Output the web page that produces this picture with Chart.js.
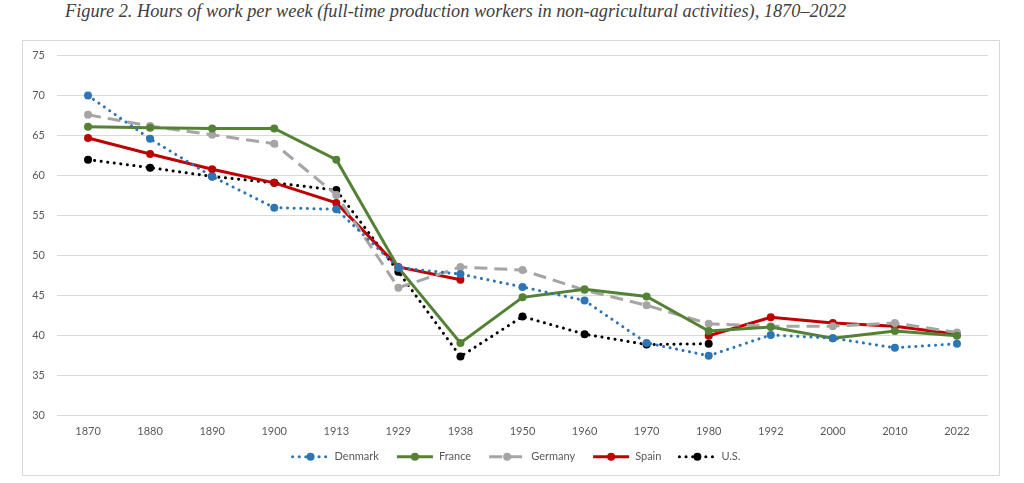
<!DOCTYPE html>
<html>
<head>
<meta charset="utf-8">
<script src="https://cdn.jsdelivr.net/npm/chart.js@4.4.1/dist/chart.umd.min.js"></script>
<style>
  body { margin: 0; background: #fff; width: 1024px; height: 483px; overflow: hidden; position: relative; }
  #title { position: absolute; left: 65px; top: 1px; font-family: "Liberation Serif", serif; font-style: italic; font-size: 18.3px; color: #404040; white-space: nowrap; }
  #box { position: absolute; left: 22px; top: 40px; width: 978px; height: 436px; box-sizing: border-box; border: 1px solid #d9d9d9; }
  #box canvas { display: block; position: relative; top: -4px; }
</style>
</head>
<body>
<div id="title">Figure 2. Hours of work per week (full-time production workers in non-agricultural activities), 1870–2022</div>
<div id="box"><canvas id="hoursChart" width="976" height="438"></canvas></div>
<script>
const years = ["1870", "1880", "1890", "1900", "1913", "1929", "1938", "1950", "1960", "1970", "1980", "1992", "2000", "2010", "2022"];
const denmark = [70, 64.6, 59.9, 56, 55.8, 48.5, 47.7, 46.1, 44.4, 39.1, 37.5, 40.1, 39.7, 38.5, 39.0];
const france = [66.1, 66, 65.9, 65.9, 62, 48.5, 39.1, 44.8, 45.8, 44.9, 40.6, 41.1, 39.7, 40.6, 40.0];
const germany = [67.6, 66.2, 65.1, 64, 57.6, 46, 48.6, 48.2, 45.7, 43.8, 41.5, 41.2, 41.2, 41.6, 40.4];
const spain = [64.7, 62.7, 60.8, 59.1, 56.6, 48.6, 47, null, null, null, 40.0, 42.3, 41.6, 41.2, 40.2];
const us = [62, 61, 59.9, 59.1, 58.2, 48, 37.4, 42.4, 40.2, 38.9, 39.0, null, null, null, null];
const yTicks = [30, 35, 40, 45, 50, 55, 60, 65, 70, 75];

const textColor = "#595959";
const gridColor = "#d9d9d9";
const fontFamily = "Lato, 'Open Sans', sans-serif";

const seriesStyles = [
  { label: "Denmark", data: denmark, color: "#2e75b6", width: 3, dash: [0.1, 6.5], cap: "round" },
  { label: "France", data: france, color: "#548235", width: 3, dash: [], cap: "butt" },
  { label: "Germany", data: germany, color: "#a5a5a5", width: 3, dash: [13, 7], cap: "butt" },
  { label: "Spain", data: spain, color: "#c00000", width: 3, dash: [], cap: "butt" },
  { label: "U.S.", data: us, color: "#000000", width: 3, dash: [0.1, 6.5], cap: "round" },
];

const datasets = seriesStyles.map((s) => ({
  label: s.label,
  data: s.data,
  borderColor: s.color,
  backgroundColor: s.color,
  borderWidth: s.width,
  borderDash: s.dash,
  borderCapStyle: s.cap,
  pointRadius: 4,
  pointHoverRadius: 4,
  pointBorderWidth: 0,
  pointBackgroundColor: s.color,
  tension: 0,
  spanGaps: false,
  fill: false,
}));

// legend drawn by hand: line sample with a marker, like the spreadsheet legend
const lineLegend = {
  id: "lineLegend",
  afterDraw(chart) {
    const c = chart.ctx;
    const area = chart.chartArea;
    const symW = 40, gapText = 4, gapItem = 16;
    c.save();
    c.font = "11px " + fontFamily;
    const widths = seriesStyles.map((s) => c.measureText(s.label).width);
    let total = 0;
    widths.forEach((w, i) => {
      total += symW + gapText + w + (i < widths.length - 1 ? gapItem : 0);
    });
    let x = (area.left + area.right) / 2 - 7 - total / 2;
    const y = area.bottom + 41;
    seriesStyles.forEach((s, i) => {
      c.strokeStyle = s.color;
      c.lineWidth = s.width;
      c.lineCap = s.cap;
      c.setLineDash(s.dash);
      c.beginPath();
      c.moveTo(x + 2, y);
      c.lineTo(x + symW - 2, y);
      c.stroke();
      c.setLineDash([]);
      c.fillStyle = s.color;
      c.beginPath();
      c.arc(x + symW / 2, y, 4, 0, Math.PI * 2);
      c.fill();
      c.fillStyle = textColor;
      c.textBaseline = "middle";
      c.textAlign = "left";
      c.fillText(s.label, x + symW + gapText, y);
      x += symW + gapText + widths[i] + gapItem;
    });
    c.restore();
  },
};

Chart.defaults.font.family = fontFamily;
Chart.defaults.font.size = 11;
Chart.defaults.color = textColor;

const ctx = document.getElementById("hoursChart").getContext("2d");
const hoursChart = new Chart(ctx, {
  type: "line",
  data: { labels: years, datasets: datasets },
  options: {
    responsive: false,
    animation: false,
    layout: { padding: { top: 0, right: 11, left: 0, bottom: 28 } },
    plugins: {
      tooltip: { enabled: false },
      legend: { display: false },
    },
    scales: {
      x: {
        offset: true,
        grid: { display: false, drawTicks: false },
        border: { display: false },
        ticks: { padding: 9, maxRotation: 0, autoSkip: false },
      },
      y: {
        min: 30,
        max: 75,
        afterBuildTicks: (scale) => {
          scale.ticks = yTicks.map((v) => ({ value: v }));
        },
        afterFit: (scale) => {
          scale.width = 34;
        },
        grid: { color: gridColor, lineWidth: 1, drawTicks: false },
        border: { display: false },
        ticks: { padding: 12 },
      },
    },
  },
  plugins: [lineLegend],
});
</script>
</body>
</html>
